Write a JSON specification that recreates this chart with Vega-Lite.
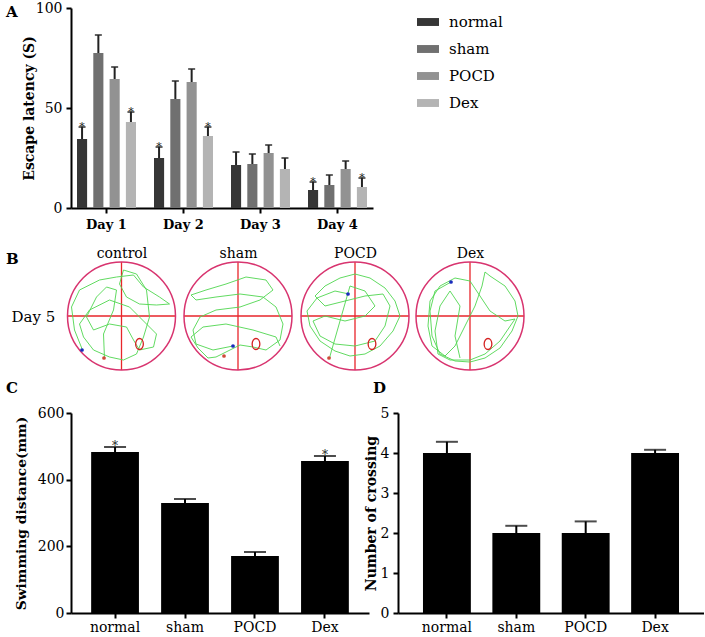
{
  "$schema": "https://vega.github.io/schema/vega-lite/v6.json",
  "background": "white",
  "padding": {"left": 5, "top": 1, "right": 0, "bottom": 0},
  "spacing": 15,
  "resolve": {"scale": {"color": "independent"}, "legend": {"color": "independent"}},
  "config": {
    "font": "DejaVu Serif",
    "view": {"stroke": null},
    "axis": {
      "domainColor": "#000", "domainWidth": 2, "tickColor": "#000", "tickWidth": 2, "tickSize": 5,
      "labelFont": "DejaVu Serif", "titleFont": "DejaVu Serif",
      "labelColor": "#000", "titleColor": "#000", "titleFontWeight": "bold", "titleFontSize": 14, "labelFontSize": 14,
      "grid": false, "labelAngle": 0, "labelOverlap": false
    },
    "legend": {"labelFont": "DejaVu Serif", "labelColor": "#000", "padding": 0},
    "text": {"font": "DejaVu Serif"},
    "title": {"font": "DejaVu Serif", "fontSize": 15, "fontWeight": "bold", "color": "#000", "anchor": "start", "frame": "bounds", "offset": 2}
  },
  "datasets": {
    "latency": [
      {"day": "Day 1", "group": "normal", "latency": 34.5, "upper": 40.5, "sig": "*"},
      {"day": "Day 1", "group": "sham", "latency": 77.5, "upper": 86.5, "sig": ""},
      {"day": "Day 1", "group": "POCD", "latency": 64.5, "upper": 70.5, "sig": ""},
      {"day": "Day 1", "group": "Dex", "latency": 43, "upper": 48, "sig": "*"},
      {"day": "Day 2", "group": "normal", "latency": 25, "upper": 30.5, "sig": "*"},
      {"day": "Day 2", "group": "sham", "latency": 54.5, "upper": 63.5, "sig": ""},
      {"day": "Day 2", "group": "POCD", "latency": 63, "upper": 69.5, "sig": ""},
      {"day": "Day 2", "group": "Dex", "latency": 36, "upper": 40.5, "sig": "*"},
      {"day": "Day 3", "group": "normal", "latency": 21.5, "upper": 28, "sig": ""},
      {"day": "Day 3", "group": "sham", "latency": 22, "upper": 27, "sig": ""},
      {"day": "Day 3", "group": "POCD", "latency": 27.5, "upper": 31.5, "sig": ""},
      {"day": "Day 3", "group": "Dex", "latency": 19.5, "upper": 25, "sig": ""},
      {"day": "Day 4", "group": "normal", "latency": 9, "upper": 13, "sig": "*"},
      {"day": "Day 4", "group": "sham", "latency": 11.5, "upper": 16.5, "sig": ""},
      {"day": "Day 4", "group": "POCD", "latency": 19.5, "upper": 23.5, "sig": ""},
      {"day": "Day 4", "group": "Dex", "latency": 10.5, "upper": 15, "sig": "*"}
    ],
    "distance": [
      {"group": "normal", "distance": 483, "upper": 498, "sig": "*"},
      {"group": "sham", "distance": 330, "upper": 342, "sig": ""},
      {"group": "POCD", "distance": 171, "upper": 183, "sig": ""},
      {"group": "Dex", "distance": 456, "upper": 471, "sig": "*"}
    ],
    "crossing": [
      {"group": "normal", "crossings": 4.0, "upper": 4.28},
      {"group": "sham", "crossings": 2.0, "upper": 2.18},
      {"group": "POCD", "crossings": 2.0, "upper": 2.29},
      {"group": "Dex", "crossings": 4.0, "upper": 4.08}
    ],
    "pools": [
      {"pool": "control", "cx": 58.5, "cy": 0},
      {"pool": "sham", "cx": 175, "cy": 0},
      {"pool": "POCD", "cx": 292, "cy": 0},
      {"pool": "Dex", "cx": 407, "cy": 0}
    ],
    "platforms": [
      {"pool": "control", "px": 76.5, "py": -28},
      {"pool": "sham", "px": 193, "py": -28},
      {"pool": "POCD", "px": 309, "py": -28},
      {"pool": "Dex", "px": 425, "py": -28}
    ],
    "starts": [
      {"pool": "control", "mx": 19, "my": -34},
      {"pool": "sham", "mx": 170, "my": -30},
      {"pool": "POCD", "mx": 285, "my": 22},
      {"pool": "Dex", "mx": 388, "my": 34}
    ],
    "ends": [
      {"pool": "control", "mx": 41, "my": -42},
      {"pool": "sham", "mx": 161, "my": -40},
      {"pool": "POCD", "mx": 266, "my": -42}
    ],
    "paths": [
      {"pool":"control","i":0,"x":19.5,"y":-34},{"pool":"control","i":1,"x":11.5,"y":-14},{"pool":"control","i":2,"x":8.5,"y":9},{"pool":"control","i":3,"x":16.5,"y":26},{"pool":"control","i":4,"x":36.5,"y":36},{"pool":"control","i":5,"x":53.5,"y":39},{"pool":"control","i":6,"x":70.5,"y":41},{"pool":"control","i":7,"x":80.5,"y":29},{"pool":"control","i":8,"x":96.5,"y":19},{"pool":"control","i":9,"x":106.5,"y":12},{"pool":"control","i":10,"x":93.5,"y":11},{"pool":"control","i":11,"x":76.5,"y":12},{"pool":"control","i":12,"x":63.5,"y":19},{"pool":"control","i":13,"x":56.5,"y":32},{"pool":"control","i":14,"x":60.5,"y":46},{"pool":"control","i":15,"x":73.5,"y":42},{"pool":"control","i":16,"x":83.5,"y":26},{"pool":"control","i":17,"x":86.5,"y":-1},{"pool":"control","i":18,"x":80.5,"y":-21},{"pool":"control","i":19,"x":73.5,"y":-38},{"pool":"control","i":20,"x":60.5,"y":-44},{"pool":"control","i":21,"x":46.5,"y":-41},{"pool":"control","i":22,"x":30.5,"y":-34},{"pool":"control","i":23,"x":20.5,"y":-21},{"pool":"control","i":24,"x":16.5,"y":-8},{"pool":"control","i":25,"x":26.5,"y":6},{"pool":"control","i":26,"x":46.5,"y":16},{"pool":"control","i":27,"x":66.5,"y":9},{"pool":"control","i":28,"x":83.5,"y":-8},{"pool":"control","i":29,"x":93.5,"y":-18},{"pool":"control","i":30,"x":90.5,"y":-31},{"pool":"control","i":31,"x":76.5,"y":-34},{"pool":"control","i":32,"x":70.5,"y":-24},{"pool":"control","i":33,"x":63.5,"y":-11},{"pool":"control","i":34,"x":46.5,"y":-8},{"pool":"control","i":35,"x":30.5,"y":-14},{"pool":"control","i":36,"x":23.5,"y":-1},{"pool":"control","i":37,"x":33.5,"y":19},{"pool":"control","i":38,"x":43.5,"y":29},{"pool":"control","i":39,"x":53.5,"y":26},{"pool":"control","i":40,"x":50.5,"y":6},{"pool":"control","i":41,"x":40.5,"y":-18},{"pool":"control","i":42,"x":41.5,"y":-43},
      {"pool":"sham","i":0,"x":170,"y":-30},{"pool":"sham","i":1,"x":150,"y":-34},{"pool":"sham","i":2,"x":133,"y":-28},{"pool":"sham","i":3,"x":130,"y":-14},{"pool":"sham","i":4,"x":137,"y":-1},{"pool":"sham","i":5,"x":153,"y":6},{"pool":"sham","i":6,"x":177,"y":9},{"pool":"sham","i":7,"x":197,"y":16},{"pool":"sham","i":8,"x":210,"y":26},{"pool":"sham","i":9,"x":203,"y":36},{"pool":"sham","i":10,"x":183,"y":39},{"pool":"sham","i":11,"x":163,"y":32},{"pool":"sham","i":12,"x":143,"y":26},{"pool":"sham","i":13,"x":128,"y":21},{"pool":"sham","i":14,"x":133,"y":16},{"pool":"sham","i":15,"x":153,"y":19},{"pool":"sham","i":16,"x":177,"y":22},{"pool":"sham","i":17,"x":200,"y":19},{"pool":"sham","i":18,"x":213,"y":9},{"pool":"sham","i":19,"x":220,"y":-8},{"pool":"sham","i":20,"x":217,"y":-24},{"pool":"sham","i":21,"x":203,"y":-34},{"pool":"sham","i":22,"x":190,"y":-31},{"pool":"sham","i":23,"x":177,"y":-29},{"pool":"sham","i":24,"x":153,"y":-41},{"pool":"sham","i":25,"x":145,"y":-42},{"pool":"sham","i":26,"x":135,"y":-32},{"pool":"sham","i":27,"x":128,"y":-21},{"pool":"sham","i":28,"x":140,"y":-11},{"pool":"sham","i":29,"x":163,"y":-8},{"pool":"sham","i":30,"x":190,"y":-14},{"pool":"sham","i":31,"x":213,"y":-21},{"pool":"sham","i":32,"x":217,"y":-30},
      {"pool":"POCD","i":0,"x":286,"y":22},{"pool":"POCD","i":1,"x":272,"y":25},{"pool":"POCD","i":2,"x":254,"y":18},{"pool":"POCD","i":3,"x":244,"y":5},{"pool":"POCD","i":4,"x":247,"y":-10},{"pool":"POCD","i":5,"x":257,"y":-25},{"pool":"POCD","i":6,"x":272,"y":-35},{"pool":"POCD","i":7,"x":287,"y":-40},{"pool":"POCD","i":8,"x":302,"y":-38},{"pool":"POCD","i":9,"x":317,"y":-30},{"pool":"POCD","i":10,"x":330,"y":-15},{"pool":"POCD","i":11,"x":337,"y":0},{"pool":"POCD","i":12,"x":332,"y":15},{"pool":"POCD","i":13,"x":322,"y":28},{"pool":"POCD","i":14,"x":307,"y":38},{"pool":"POCD","i":15,"x":292,"y":42},{"pool":"POCD","i":16,"x":277,"y":38},{"pool":"POCD","i":17,"x":262,"y":30},{"pool":"POCD","i":18,"x":252,"y":20},{"pool":"POCD","i":19,"x":262,"y":10},{"pool":"POCD","i":20,"x":282,"y":15},{"pool":"POCD","i":21,"x":302,"y":20},{"pool":"POCD","i":22,"x":320,"y":22},{"pool":"POCD","i":23,"x":327,"y":10},{"pool":"POCD","i":24,"x":322,"y":-10},{"pool":"POCD","i":25,"x":312,"y":-25},{"pool":"POCD","i":26,"x":292,"y":-30},{"pool":"POCD","i":27,"x":272,"y":-28},{"pool":"POCD","i":28,"x":257,"y":-20},{"pool":"POCD","i":29,"x":250,"y":-5},{"pool":"POCD","i":30,"x":262,"y":0},{"pool":"POCD","i":31,"x":282,"y":-5},{"pool":"POCD","i":32,"x":302,"y":0},{"pool":"POCD","i":33,"x":312,"y":10},{"pool":"POCD","i":34,"x":302,"y":25},{"pool":"POCD","i":35,"x":287,"y":30},{"pool":"POCD","i":36,"x":267,"y":-40},{"pool":"POCD","i":37,"x":267,"y":-42},
      {"pool":"Dex","i":0,"x":388,"y":34},{"pool":"Dex","i":1,"x":372,"y":25},{"pool":"Dex","i":2,"x":367,"y":5},{"pool":"Dex","i":3,"x":369,"y":-20},{"pool":"Dex","i":4,"x":377,"y":-38},{"pool":"Dex","i":5,"x":392,"y":-45},{"pool":"Dex","i":6,"x":407,"y":-46},{"pool":"Dex","i":7,"x":422,"y":-42},{"pool":"Dex","i":8,"x":437,"y":-32},{"pool":"Dex","i":9,"x":449,"y":-15},{"pool":"Dex","i":10,"x":455,"y":0},{"pool":"Dex","i":11,"x":452,"y":15},{"pool":"Dex","i":12,"x":442,"y":30},{"pool":"Dex","i":13,"x":427,"y":40},{"pool":"Dex","i":14,"x":422,"y":44},{"pool":"Dex","i":15,"x":419,"y":30},{"pool":"Dex","i":16,"x":412,"y":10},{"pool":"Dex","i":17,"x":402,"y":-10},{"pool":"Dex","i":18,"x":392,"y":-30},{"pool":"Dex","i":19,"x":382,"y":-40},{"pool":"Dex","i":20,"x":369,"y":-30},{"pool":"Dex","i":21,"x":365,"y":-10},{"pool":"Dex","i":22,"x":367,"y":15},{"pool":"Dex","i":23,"x":377,"y":30},{"pool":"Dex","i":24,"x":392,"y":38},{"pool":"Dex","i":25,"x":407,"y":35},{"pool":"Dex","i":26,"x":417,"y":20},{"pool":"Dex","i":27,"x":427,"y":5},{"pool":"Dex","i":28,"x":442,"y":-5},{"pool":"Dex","i":29,"x":452,"y":-3},{"pool":"Dex","i":30,"x":437,"y":-25},{"pool":"Dex","i":31,"x":422,"y":-38},{"pool":"Dex","i":32,"x":407,"y":-44},{"pool":"Dex","i":33,"x":387,"y":-44},{"pool":"Dex","i":34,"x":375,"y":-38},{"pool":"Dex","i":35,"x":372,"y":-15},{"pool":"Dex","i":36,"x":377,"y":10},{"pool":"Dex","i":37,"x":387,"y":25},{"pool":"Dex","i":38,"x":397,"y":10},{"pool":"Dex","i":39,"x":392,"y":-20},{"pool":"Dex","i":40,"x":397,"y":-42}
    ]
  },
  "vconcat": [
    {
      "title": {"text": "A", "dx": -16, "dy": 21},
      "width": 302,
      "height": 200,
      "data": {"name": "latency"},
      "encoding": {
        "x": {"field": "day", "type": "nominal", "scale": {"paddingInner": 0.234, "paddingOuter": 0.078},
              "axis": {"title": null, "labelFontWeight": "bold", "labelFontSize": 13, "labelPadding": 5}},
        "xOffset": {"field": "group", "type": "nominal", "sort": ["normal", "sham", "POCD", "Dex"], "scale": {"paddingInner": 0.38}}
      },
      "layer": [
        {
          "mark": {"type": "bar"},
          "encoding": {
            "y": {"field": "latency", "type": "quantitative", "scale": {"domain": [0, 100], "nice": false},
                  "axis": {"values": [0, 50, 100], "title": "Escape latency (S)", "labelPadding": 4, "titleX": -35, "titleBaseline": "bottom"}},
            "color": {"field": "group", "type": "nominal", "sort": ["normal", "sham", "POCD", "Dex"],
                      "scale": {"domain": ["normal", "sham", "POCD", "Dex"], "range": ["#363636", "#707070", "#929292", "#b4b4b4"]},
                      "legend": {"orient": "none", "legendX": 346, "legendY": 3, "title": null,
                                 "symbolType": "M-1,-0.36H1V0.36H-1Z", "symbolSize": 484, "symbolStrokeWidth": 0,
                                 "labelFontSize": 15, "labelOffset": 10, "rowPadding": 8}}
          }
        },
        {
          "mark": {"type": "rule", "color": "#222", "strokeWidth": 2},
          "encoding": {"y": {"field": "latency", "type": "quantitative"}, "y2": {"field": "upper"}}
        },
        {
          "mark": {"type": "tick", "color": "#222", "thickness": 2, "size": 7},
          "encoding": {"y": {"field": "upper", "type": "quantitative"}}
        },
        {
          "mark": {"type": "text", "fontSize": 11, "baseline": "alphabetic", "dy": 3, "color": "#222"},
          "encoding": {"y": {"field": "upper", "type": "quantitative"}, "text": {"field": "sig"}}
        }
      ]
    },
    {
      "spacing": 8,
      "vconcat": [
        {
          "title": {"text": "B", "dx": -5, "dy": 23},
          "width": 465,
          "height": 108,
          "layer": [
            {
              "data": {"name": "pools"},
              "mark": {"type": "point", "shape": "M-1,0H1M0,-1V1", "size": 11664, "filled": false, "stroke": "#e8262b", "strokeWidth": 1.3, "opacity": 1},
              "encoding": {
                "x": {"field": "cx", "type": "quantitative", "scale": {"domain": [8, 473], "nice": false, "zero": false},
                      "axis": {"orient": "top", "values": [58.5, 175, 292, 407],
                               "labelExpr": "datum.value < 100 ? 'control' : datum.value < 200 ? 'sham' : datum.value < 350 ? 'POCD' : 'Dex'",
                               "domain": false, "ticks": false, "labelPadding": 2, "title": null}},
                "y": {"field": "cy", "type": "quantitative", "scale": {"domain": [-54, 54], "nice": false, "zero": false},
                      "axis": {"labels": false, "ticks": false, "domain": false, "title": "Day 5", "titleAngle": 0,
                               "titleFontWeight": "normal", "titleFontSize": 15, "titleAlign": "left", "titleBaseline": "middle", "titleX": -60}}
              }
            },
            {
              "data": {"name": "pools"},
              "mark": {"type": "point", "shape": "circle", "size": 11664, "filled": false, "stroke": "#d8346f", "strokeWidth": 1.5, "opacity": 1},
              "encoding": {"x": {"field": "cx", "type": "quantitative"}, "y": {"field": "cy", "type": "quantitative"}}
            },
            {
              "data": {"name": "paths"},
              "mark": {"type": "line", "color": "#4fd64f", "strokeWidth": 0.9},
              "encoding": {
                "x": {"field": "x", "type": "quantitative"},
                "y": {"field": "y", "type": "quantitative"},
                "detail": {"field": "pool"},
                "order": {"field": "i", "type": "quantitative"}
              }
            },
            {
              "data": {"name": "platforms"},
              "mark": {"type": "point", "shape": "M-0.7,0A0.7,1 0 1,1 0.7,0A0.7,1 0 1,1 -0.7,0Z", "size": 121, "filled": false, "stroke": "#d42020", "strokeWidth": 1.3, "opacity": 1},
              "encoding": {"x": {"field": "px", "type": "quantitative"}, "y": {"field": "py", "type": "quantitative"}}
            },
            {
              "data": {"name": "starts"},
              "mark": {"type": "point", "filled": true, "size": 14, "opacity": 1, "color": "#1a2bbd"},
              "encoding": {"x": {"field": "mx", "type": "quantitative"}, "y": {"field": "my", "type": "quantitative"}}
            },
            {
              "data": {"name": "ends"},
              "mark": {"type": "point", "filled": true, "size": 14, "opacity": 1, "color": "#d04a3a"},
              "encoding": {"x": {"field": "mx", "type": "quantitative"}, "y": {"field": "my", "type": "quantitative"}}
            }
          ]
        },
        {
          "spacing": -5,
          "hconcat": [
            {
              "title": {"text": "C", "dx": -8, "offset": 10},
              "width": 298,
              "height": 200,
              "data": {"name": "distance"},
              "encoding": {
                "x": {"field": "group", "type": "nominal", "sort": ["normal", "sham", "POCD", "Dex"],
                      "scale": {"paddingInner": 0.317, "paddingOuter": 0.288},
                      "axis": {"title": null, "labelPadding": 2}}
              },
              "layer": [
                {
                  "mark": {"type": "bar", "color": "#000"},
                  "encoding": {"y": {"field": "distance", "type": "quantitative", "scale": {"domain": [0, 600], "nice": false},
                                     "axis": {"values": [0, 200, 400, 600], "title": "Swimming distance(mm)", "labelPadding": 2, "titleFontSize": 13.8, "titleX": -43, "titleBaseline": "bottom"}}}
                },
                {
                  "mark": {"type": "rule", "color": "#000", "strokeWidth": 2},
                  "encoding": {"y": {"field": "distance", "type": "quantitative"}, "y2": {"field": "upper"}}
                },
                {
                  "mark": {"type": "tick", "color": "#000", "thickness": 2, "size": 22},
                  "encoding": {"y": {"field": "upper", "type": "quantitative"}}
                },
                {
                  "mark": {"type": "text", "fontSize": 12, "baseline": "alphabetic", "dy": 3, "color": "#222"},
                  "encoding": {"y": {"field": "upper", "type": "quantitative"}, "text": {"field": "sig"}}
                }
              ]
            },
            {
              "title": {"text": "D", "dx": 9, "offset": 10},
              "width": 306,
              "height": 200,
              "data": {"name": "crossing"},
              "encoding": {
                "x": {"field": "group", "type": "nominal", "sort": ["normal", "sham", "POCD", "Dex"],
                      "scale": {"paddingInner": 0.31, "paddingOuter": 0.36},
                      "axis": {"title": null, "labelPadding": 2}}
              },
              "layer": [
                {
                  "mark": {"type": "bar", "color": "#000"},
                  "encoding": {"y": {"field": "crossings", "type": "quantitative", "scale": {"domain": [0, 5], "nice": false},
                                     "axis": {"values": [0, 1, 2, 3, 4, 5], "tickCount": 6, "title": "Number of crossing", "labelPadding": 4, "titleX": -20, "titleBaseline": "bottom"}}}
                },
                {
                  "mark": {"type": "rule", "color": "#000", "strokeWidth": 2},
                  "encoding": {"y": {"field": "crossings", "type": "quantitative"}, "y2": {"field": "upper"}}
                },
                {
                  "mark": {"type": "tick", "color": "#000", "thickness": 2, "size": 22},
                  "encoding": {"y": {"field": "upper", "type": "quantitative"}}
                }
              ]
            }
          ]
        }
      ]
    }
  ]
}
